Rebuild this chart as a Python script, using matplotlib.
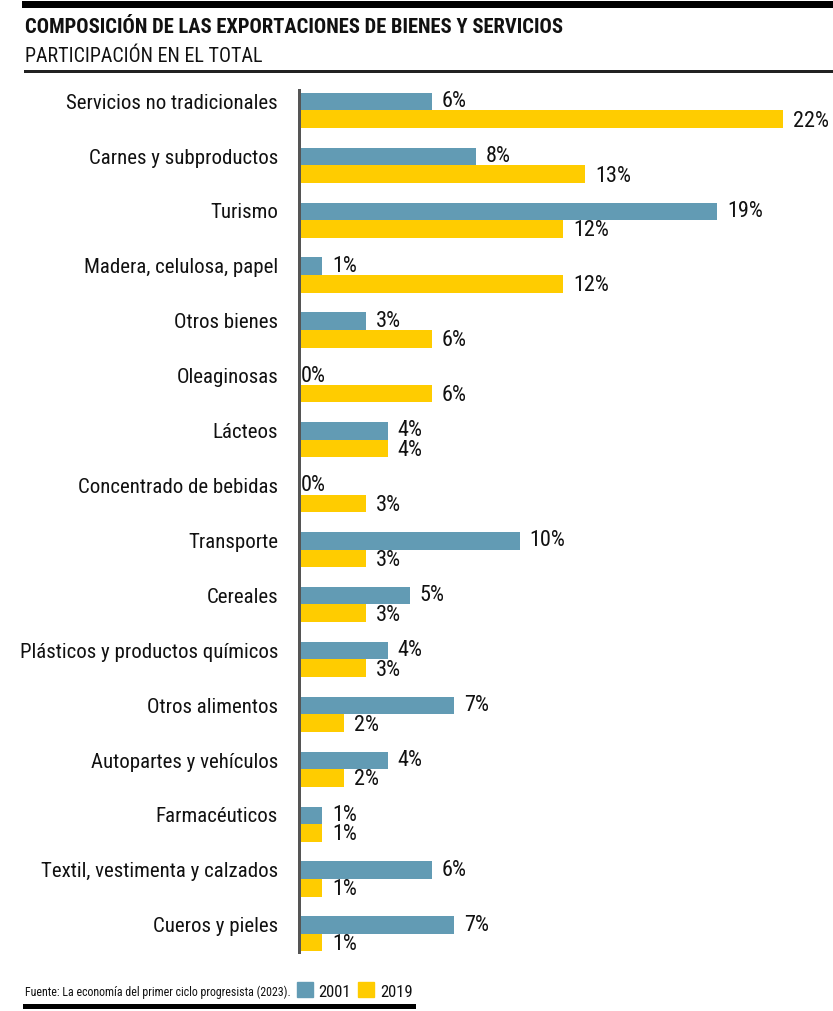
import matplotlib
matplotlib.use("Agg")
import matplotlib.pyplot as plt
from matplotlib import font_manager
from matplotlib.lines import Line2D
from matplotlib.patches import Rectangle

# ---------------- data ----------------
categories = [
    "Servicios no tradicionales", "Carnes y subproductos", "Turismo",
    "Madera, celulosa, papel", "Otros bienes", "Oleaginosas", "Lácteos",
    "Concentrado de bebidas", "Transporte", "Cereales",
    "Plásticos y productos químicos", "Otros alimentos",
    "Autopartes y vehículos", "Farmacéuticos",
    "Textil, vestimenta y calzados", "Cueros y pieles",
]
values_2001 = [6, 8, 19, 1, 3, 0, 4, 0, 10, 5, 4, 7, 4, 1, 6, 7]
values_2019 = [22, 13, 12, 12, 6, 6, 4, 3, 3, 3, 3, 2, 2, 1, 1, 1]
series_names = ["2001", "2019"]
title = "COMPOSICIÓN DE LAS EXPORTACIONES DE BIENES Y SERVICIOS"
subtitle = "PARTICIPACIÓN EN EL TOTAL"
source = "Fuente: La economía del primer ciclo progresista (2023)."

# ---------------- style ----------------
C_2001 = "#629BB4"
C_2019 = "#FFCC00"
AXIS_C = "#555555"

available = {f.name for f in font_manager.fontManager.ttflist}
FONT = "DejaVu Sans"
for cand in ["Liberation Sans Narrow", "Roboto Condensed", "Open Sans Condensed", "Noto Sans"]:
    if cand in available:
        FONT = cand
        break
plt.rcParams["font.family"] = [FONT, "DejaVu Sans"]

W, H = 833, 1011
DPI = 100
fig = plt.figure(figsize=(W / DPI, H / DPI), dpi=DPI)
PT = 72.0 / DPI  # points per pixel


def fx(px):
    return px / W


def fy(py):
    return 1 - py / H


# axes placement (pixels)
ax_left, ax_right = 300, 833
ax_top, ax_bot = 90, 952
ax = fig.add_axes([fx(ax_left), fy(ax_bot), fx(ax_right - ax_left), (ax_bot - ax_top) / H])

n = len(categories)
scale_px = (783 - 300) / 22.0
ax.set_xlim(0, (ax_right - ax_left) / scale_px)
ax.set_ylim(n - 1 + 0.33, -0.37)

bh = 0.32
ys = list(range(n))
ax.barh([y - bh / 2 for y in ys], values_2001, height=bh, color=C_2001, left=0)
ax.barh([y + bh / 2 for y in ys], values_2019, height=bh, color=C_2019, left=0)

for s in ["top", "right", "bottom"]:
    ax.spines[s].set_visible(False)
ax.spines["left"].set_color(AXIS_C)
ax.spines["left"].set_linewidth(3 * PT)
ax.spines["left"].set_position(("outward", 1.5 * PT))
ax.set_xticks([])
ax.set_yticks([])
ax.patch.set_alpha(0)

VAL_FS = 16
CAT_FS = 15

for i, (a, b) in enumerate(zip(values_2001, values_2019)):
    for v, yy, dy in ((a, i - bh / 2, 0), (b, i + bh / 2, -2)):
        off = 10 if v > 0 else 1
        ax.annotate(f"{v}%", xy=(v, yy), xytext=(off * PT, dy * PT), textcoords="offset points",
                    ha="left", va="center", fontsize=VAL_FS, color="#111111")
    ax.annotate(categories[i], xy=(0, i - 0.13), xytext=(-22 * PT, 0), textcoords="offset points",
                ha="right", va="center", fontsize=CAT_FS, color="#111111", annotation_clip=False)

# header / footer
fig.add_artist(Line2D([fx(25), fx(833)], [fy(3.5), fy(3.5)], color="black", lw=7 * PT))
fig.text(fx(25), fy(33), title, fontsize=14.8, fontweight="bold", ha="left", va="baseline", color="#111111")
fig.text(fx(25), fy(62), subtitle, fontsize=14.4, ha="left", va="baseline", color="#111111")
fig.add_artist(Line2D([fx(25), fx(833)], [fy(71), fy(71)], color="#222222", lw=3 * PT))

fig.text(fx(25), fy(996), source, fontsize=8.6, ha="left", va="baseline", color="#111111")
fig.add_artist(Rectangle((fx(297), fy(997)), fx(16), 15 / H, transform=fig.transFigure, color=C_2001))
fig.text(fx(318), fy(997), series_names[0], fontsize=12, ha="left", va="baseline", color="#111111")
fig.add_artist(Rectangle((fx(358), fy(997)), fx(16), 15 / H, transform=fig.transFigure, color=C_2019))
fig.text(fx(380), fy(997), series_names[1], fontsize=12, ha="left", va="baseline", color="#111111")
fig.add_artist(Line2D([fx(25), fx(413)], [fy(1005.5), fy(1005.5)], color="black", lw=5 * PT))

fig.savefig("out.png", dpi=DPI)
